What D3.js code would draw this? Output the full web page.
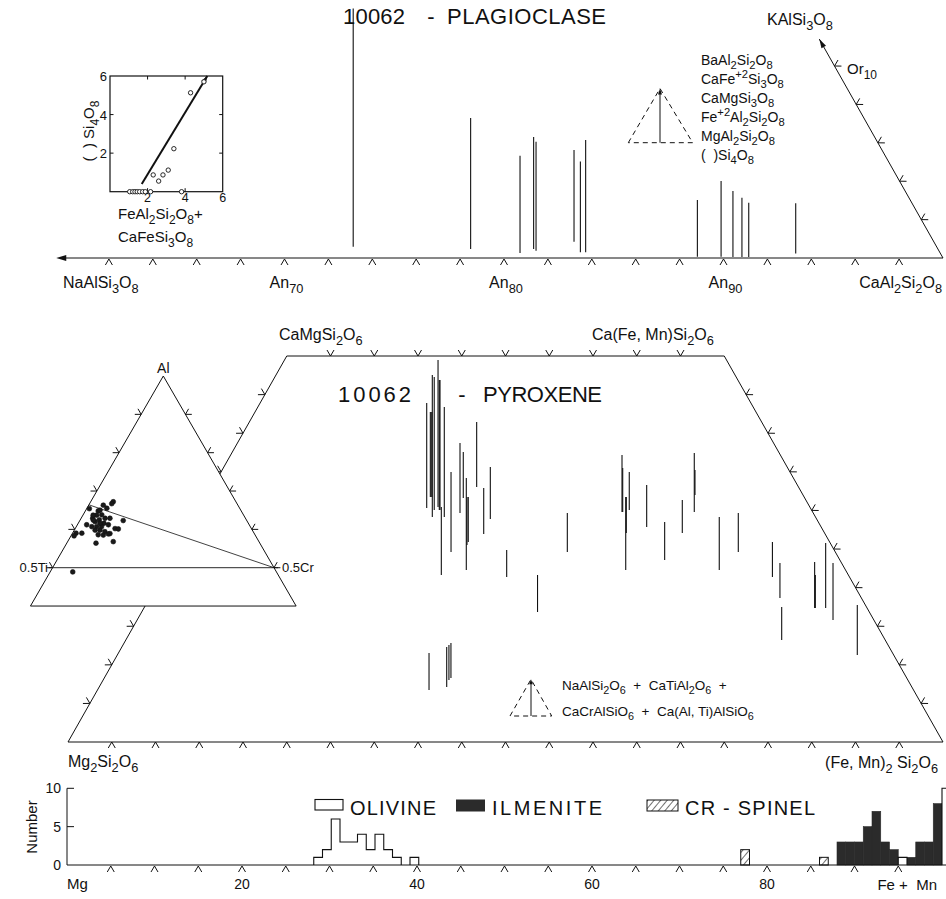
<!DOCTYPE html>
<html>
<head>
<meta charset="utf-8">
<script src="https://cdn.jsdelivr.net/npm/d3@7"></script>
<style>
  html, body { margin: 0; padding: 0; background: #fff; }
  svg { display: block; }
</style>
</head>
<body>
<div id="chart"></div>
<script>
// ---------- Plagioclase ----------
// each analysis: [An (mol %), low end, high end] on the minor-component scale
const plagioclase = [
  [73.13, 0.59, 13.0], [78.48, 0.47, 7.29], [80.73, 0.26, 5.33], [81.35, 0.47, 6.30],
  [81.46, 0.38, 6.06], [83.19, 0.85, 5.63], [83.48, 0.30, 5.02], [83.72, 0.30, 6.15],
  [88.81, 0.07, 3.02], [89.89, 0.07, 4.01], [90.43, 0.05, 3.49], [90.84, 0.05, 3.14],
  [91.15, 0.05, 2.88], [93.29, 0.24, 2.85]
];
const plagTicks = d3.range(62, 100, 2);
const anLabels = [70, 80, 90];
const orTicks = [2, 4, 6, 8, 10];
const plagComponents = ["BaAl_2Si_2O_8", "CaFe^+2Si_3O_8", "CaMgSi_3O_8",
                        "Fe^+2Al_2Si_2O_8", "MgAl_2Si_2O_8", "(  )Si_4O_8"];

// inset: ( )Si4O8 against FeAl2Si2O8 + CaFeSi3O8
const insetPoints = [
  [1.05, 0], [1.21, 0], [1.33, 0], [1.45, 0], [1.58, 0], [1.74, 0], [1.88, 0], [2.16, 0],
  [3.81, 0], [2.30, 0.87], [2.59, 0.55], [2.82, 0.87], [3.10, 1.12], [3.40, 2.23],
  [4.29, 5.13], [5.0, 5.7]
];
const insetTrend = [[1.69, 0.40], [5.18, 6.0]];
const insetTicks = [2, 4, 6];

// ---------- Pyroxene ----------
// each analysis: [Fs, Wo at low end, Wo at high end]
const pyroxeneLines = [
  [25.84, 30.31, 43.91], [25.54, 31.74, 42.75], [25.70, 31.74, 42.75], [27.06, 29.15, 47.54],
  [26.83, 30.05, 47.28], [27.07, 30.44, 49.48], [27.41, 30.05, 46.89], [27.49, 30.05, 46.89],
  [31.85, 21.63, 30.44], [28.43, 29.15, 43.39], [31.47, 24.61, 34.97], [29.97, 29.66, 38.73],
  [29.37, 31.61, 37.56], [34.38, 22.28, 34.20], [32.84, 25.52, 31.74], [32.79, 25.91, 31.74],
  [30.19, 33.03, 41.45], [34.04, 26.94, 32.90], [33.82, 28.89, 35.62], [39.45, 21.37, 24.87],
  [45.24, 16.84, 21.63], [44.76, 24.61, 29.66], [48.42, 29.79, 37.18], [48.50, 29.79, 35.49],
  [52.60, 22.28, 31.74], [50.27, 27.07, 31.74], [49.12, 30.05, 34.97], [52.21, 27.85, 33.29],
  [56.40, 23.58, 28.50], [56.67, 27.07, 31.35], [56.68, 29.79, 37.44], [55.66, 31.99, 35.23],
  [63.29, 22.28, 29.15], [64.30, 24.61, 29.66], [69.82, 21.37, 25.91], [72.04, 18.65, 23.19],
  [74.96, 13.21, 17.49], [76.65, 17.36, 23.32], [76.73, 17.36, 21.63], [77.91, 17.36, 25.78],
  [79.53, 15.80, 23.19], [84.57, 11.27, 17.75], [37.89, 6.74, 11.53], [39.72, 7.12, 12.31],
  [39.52, 8.03, 12.56], [39.62, 8.29, 12.82]
];
const quadTicks = d3.range(5, 50, 5);
const baseTicks = d3.range(5, 100, 5);

// Al - 0.5Ti - 0.5Cr triangle: [Ti, Cr] fractions (Al = 1 - Ti - Cr)
const alTiCr = [
  [0.340, 0.006], [0.277, 0.051], [0.283, 0.050], [0.300, 0.045], [0.323, 0.029],
  [0.332, 0.031], [0.320, 0.042], [0.317, 0.054], [0.332, 0.043], [0.344, 0.036],
  [0.345, 0.026], [0.306, 0.065], [0.326, 0.058], [0.279, 0.098], [0.367, 0.021],
  [0.358, 0.035], [0.347, 0.046], [0.336, 0.057], [0.318, 0.070], [0.308, 0.090],
  [0.301, 0.098], [0.355, 0.047], [0.344, 0.058], [0.335, 0.071], [0.326, 0.085],
  [0.354, 0.060], [0.343, 0.072], [0.330, 0.082], [0.389, 0.021], [0.402, 0.008],
  [0.410, 0.007], [0.370, 0.066], [0.329, 0.103], [0.460, 0.051], [0.346, 0.030],
  [0.335, 0.049], [0.318, 0.032], [0.304, 0.033], [0.340, 0.023]
];
const alTicks = [0.9, 0.8, 0.7, 0.6, 0.5];

// ---------- Histogram: Fe/(Fe+Mg), bins of width 1 ----------
const olivineStart = [28.2, 29.2, 30.2, 31.2, 32.2, 33.2, 34.2, 35.2, 36.2, 37.2, 39.2, 95, 100];
const olivineCount = [1, 2, 6, 3, 3, 4, 2, 4, 2, 1, 1, 1, 10];
const ilmeniteStart = [88, 89, 90, 91, 92, 93, 94, 96, 97, 98, 99];
const ilmeniteCount = [3, 3, 3, 5, 7, 3, 2, 1, 3, 3, 8];
const spinelStart = [77, 86];
const spinelCount = [2, 1];
const histXLabels = [20, 40, 60, 80];
const histYTicks = [0, 5, 10];
const binWidth = 1;

// ---------- helpers ----------
const INK = "#111";
const svg = d3.select("#chart").append("svg")
  .attr("width", 946).attr("height", 899)
  .style("font-family", "'Liberation Sans', Arial, sans-serif");

const defs = svg.append("defs");
const hatch = defs.append("pattern").attr("id", "hatch")
  .attr("width", 5).attr("height", 5)
  .attr("patternUnits", "userSpaceOnUse")
  .attr("patternTransform", "rotate(40)");
hatch.append("rect").attr("width", 5).attr("height", 5).attr("fill", "#fff");
hatch.append("line").attr("x1", 0).attr("y1", 0).attr("x2", 0).attr("y2", 5)
  .attr("stroke", INK).attr("stroke-width", 1.2);

// "_" marks a subscript (digits), "^" a superscript (sign and digits)
function parseFormula(s) {
  const out = [];
  let cur = "", i = 0;
  const push = (type, text) => { if (text) out.push({ type, text }); };
  while (i < s.length) {
    const c = s[i];
    if (c === "_" || c === "^") {
      push("n", cur); cur = "";
      const allowed = c === "_" ? /[0-9]/ : /[0-9+\-]/;
      let j = i + 1, t = "";
      while (j < s.length && allowed.test(s[j])) { t += s[j]; j++; }
      push(c === "_" ? "sub" : "sup", t);
      i = j;
    } else { cur += c; i++; }
  }
  push("n", cur);
  return out;
}

function ftext(g, str, x, y, size, anchor) {
  const t = g.append("text")
    .attr("x", x).attr("y", y)
    .attr("font-size", size)
    .attr("text-anchor", anchor || "start")
    .attr("fill", INK)
    .style("white-space", "pre");
  let off = 0;
  parseFormula(str).forEach(p => {
    const target = p.type === "sub" ? size * 0.32 : p.type === "sup" ? -size * 0.42 : 0;
    const ts = t.append("tspan").text(p.text);
    if (target - off !== 0) ts.attr("dy", target - off);
    if (p.type !== "n") ts.attr("font-size", size * 0.8);
    off = target;
  });
  return t;
}

function seg(g, a, b, w) {
  return g.append("line")
    .attr("x1", a[0]).attr("y1", a[1]).attr("x2", b[0]).attr("y2", b[1])
    .attr("stroke", INK).attr("stroke-width", w || 1);
}

// chevron tick: apex on the line, arms pointing away from interior point c
function chevrons(g, pts, a, b, c, h, w) {
  h = h || 6; w = w || 3.5;
  const dx = b[0] - a[0], dy = b[1] - a[1], L = Math.hypot(dx, dy);
  const tx = dx / L, ty = dy / L;
  let nx = -ty, ny = tx;
  const mx = (a[0] + b[0]) / 2, my = (a[1] + b[1]) / 2;
  if ((c[0] - mx) * nx + (c[1] - my) * ny > 0) { nx = -nx; ny = -ny; }
  g.selectAll(null).data(pts).enter().append("path")
    .attr("d", p => `M${p[0] + nx * h + tx * w},${p[1] + ny * h + ty * w}L${p[0]},${p[1]}L${p[0] + nx * h - tx * w},${p[1] + ny * h - ty * w}`)
    .attr("fill", "none").attr("stroke", INK).attr("stroke-width", 1);
}

function arrowHead(g, tip, from, len, half) {
  len = len || 9; half = half || 3;
  const dx = tip[0] - from[0], dy = tip[1] - from[1], L = Math.hypot(dx, dy);
  const ux = dx / L, uy = dy / L, bx = tip[0] - ux * len, by = tip[1] - uy * len;
  g.append("path")
    .attr("d", `M${tip[0]},${tip[1]}L${bx - uy * half},${by + ux * half}L${bx + uy * half},${by - ux * half}Z`)
    .attr("fill", INK);
}

// ========== PLAGIOCLASE PANEL ==========
const anX = d3.scaleLinear().domain([60, 100]).range([65, 943]);
const plagY = d3.scaleLinear().domain([0, 10]).range([258, 66]);
const orX = d3.scaleLinear().domain([0, 10]).range([943, 834.5]);

const gP = svg.append("g");
const axA = [anX(59.8), plagY(0)], axB = [anX(100), plagY(0)];
seg(gP, axA, axB);
arrowHead(gP, [anX(59.6), plagY(0)], axB, 10, 3);
chevrons(gP, plagTicks.map(a => [anX(a), plagY(0) + 1]), axA, axB, [500, 100]);

const orTop = [orX(11.4), plagY(11.4)];
seg(gP, [orX(0), plagY(0)], orTop);
arrowHead(gP, orTop, [orX(0), plagY(0)], 9, 2.6);
chevrons(gP, orTicks.map(o => [orX(o), plagY(o)]), [orX(0), plagY(0)], orTop, [700, 200]);

gP.selectAll(".pl").data(plagioclase).enter().append("line")
  .attr("x1", d => anX(d[0])).attr("x2", d => anX(d[0]))
  .attr("y1", d => plagY(d[1])).attr("y2", d => plagY(d[2]))
  .attr("stroke", INK).attr("stroke-width", 1.1);

// title
gP.append("text").attr("x", 343).attr("y", 24).attr("font-size", 22).attr("fill", INK)
  .attr("textLength", 62).attr("lengthAdjust", "spacing").text("10062");
gP.append("text").attr("x", 431).attr("y", 24).attr("font-size", 22).attr("fill", INK)
  .attr("text-anchor", "middle").text("-");
gP.append("text").attr("x", 447).attr("y", 24).attr("font-size", 22).attr("fill", INK)
  .attr("textLength", 159).attr("lengthAdjust", "spacing").text("PLAGIOCLASE");

// axis labels
ftext(gP, "NaAlSi_3O_8", 63, 288, 16);
anLabels.forEach(a => ftext(gP, "An_" + a, anX(a) + 2, 288, 16, "middle"));
ftext(gP, "CaAl_2Si_2O_8", 942, 288, 16, "end");
ftext(gP, "KAlSi_3O_8", 767, 25, 16);
ftext(gP, "Or_10", 847, 74, 15);

// legend: components summed along the vertical
plagComponents.forEach((s, i) => ftext(gP, s, 701, 65 + i * 19, 14));
const lgP = { apex: [660, 88.5], l: [628.3, 142.7], r: [692.7, 142.7] };
gP.append("path")
  .attr("d", `M${lgP.l[0]},${lgP.l[1]}L${lgP.apex[0]},${lgP.apex[1]}L${lgP.r[0]},${lgP.r[1]}Z`)
  .attr("fill", "none").attr("stroke", INK).attr("stroke-dasharray", "5,4");
seg(gP, [660, 142.7], [660, 92]);
arrowHead(gP, lgP.apex, [660, 142.7], 6, 2);

// ========== INSET ==========
const insX = d3.scaleLinear().domain([0, 6]).range([110, 222.7]);
const insY = d3.scaleLinear().domain([0, 6]).range([191.7, 76]);
const gI = svg.append("g");
gI.append("rect").attr("x", insX(0)).attr("y", insY(6))
  .attr("width", insX(6) - insX(0)).attr("height", insY(0) - insY(6))
  .attr("fill", "none").attr("stroke", INK).attr("stroke-width", 1.2);
[2, 4].forEach(v => {
  seg(gI, [insX(0), insY(v)], [insX(0) + 3.5, insY(v)]);
  seg(gI, [insX(6), insY(v)], [insX(6) - 3.5, insY(v)]);
  seg(gI, [insX(v), insY(0)], [insX(v), insY(0) - 3.5]);
  seg(gI, [insX(v), insY(6)], [insX(v), insY(6) + 3.5]);
});
insetTicks.forEach(v => {
  gI.append("text").attr("x", insX(0) - 3).attr("y", insY(v) + 5).attr("font-size", 13)
    .attr("text-anchor", "end").attr("fill", INK).text(v);
  gI.append("text").attr("x", insX(v)).attr("y", 202).attr("font-size", 12.5)
    .attr("text-anchor", "middle").attr("fill", INK).text(v);
});
const trendA = [insX(insetTrend[0][0]), insY(insetTrend[0][1])];
const trendB = [insX(insetTrend[1][0]), insY(insetTrend[1][1])];
seg(gI, trendA, trendB, 2);
arrowHead(gI, trendB, trendA, 7, 2.6);
gI.selectAll(".ip").data(insetPoints).enter().append("circle")
  .attr("cx", d => insX(d[0])).attr("cy", d => insY(d[1])).attr("r", 2.2)
  .attr("fill", "#fff").attr("stroke", INK).attr("stroke-width", 0.9);
ftext(gI, "(  ) Si_4O_8", 0, 0, 15, "middle").attr("transform", "translate(94,131) rotate(-90)");
ftext(gI, "FeAl_2Si_2O_8+", 118, 219, 15);
ftext(gI, "CaFeSi_3O_8", 118, 242, 15);

// ========== PYROXENE QUADRILATERAL ==========
const fsX = d3.scaleLinear().domain([0, 100]).range([68, 943]);
const woY = d3.scaleLinear().domain([0, 50]).range([742, 356]);
const quad = (wo, fs) => [fsX(fs + wo / 2), woY(wo)];

const gQ = svg.append("g");
const En = quad(0, 0), Fs = quad(0, 100), Di = quad(50, 0), Hd = quad(50, 50);
const centre = quad(25, 40);
gQ.append("path").attr("d", `M${En}L${Di}L${Hd}L${Fs}Z`)
  .attr("fill", "none").attr("stroke", INK).attr("stroke-width", 1);
chevrons(gQ, baseTicks.map(f => quad(0, f)), En, Fs, centre);
chevrons(gQ, quadTicks.map(f => quad(50, f)), Di, Hd, centre);
chevrons(gQ, quadTicks.map(w => quad(w, 0)), En, Di, centre);
chevrons(gQ, quadTicks.map(w => quad(w, 100 - w)), Fs, Hd, centre);

gQ.selectAll(".px").data(pyroxeneLines).enter().append("line")
  .attr("x1", d => quad(d[1], d[0])[0]).attr("x2", d => quad(d[1], d[0])[0])
  .attr("y1", d => woY(d[1])).attr("y2", d => woY(d[2]))
  .attr("stroke", INK).attr("stroke-width", 1.1);

gQ.append("text").attr("x", 338).attr("y", 402).attr("font-size", 22).attr("fill", INK)
  .attr("textLength", 73).attr("lengthAdjust", "spacing").text("10062");
gQ.append("text").attr("x", 462).attr("y", 402).attr("font-size", 22).attr("fill", INK)
  .attr("text-anchor", "middle").text("-");
gQ.append("text").attr("x", 483).attr("y", 402).attr("font-size", 22).attr("fill", INK)
  .attr("textLength", 119).attr("lengthAdjust", "spacing").text("PYROXENE");

ftext(gQ, "CaMgSi_2O_6", 279, 340, 16);
ftext(gQ, "Ca(Fe, Mn)Si_2O_6", 592, 340, 16);
ftext(gQ, "Mg_2Si_2O_6", 68, 767, 16);
ftext(gQ, "(Fe, Mn)_2 Si_2O_6", 938, 768, 16, "end");

// legend for the minor components
const lgQ = { apex: [531, 679.3], l: [510, 716], r: [551.7, 716] };
gQ.append("path")
  .attr("d", `M${lgQ.l[0]},${lgQ.l[1]}L${lgQ.apex[0]},${lgQ.apex[1]}L${lgQ.r[0]},${lgQ.r[1]}Z`)
  .attr("fill", "none").attr("stroke", INK).attr("stroke-dasharray", "5,4");
seg(gQ, [531, 716], [531, 683]);
arrowHead(gQ, lgQ.apex, [531, 716], 5, 1.8);
ftext(gQ, "NaAlSi_2O_6  +  CaTiAl_2O_6  +", 562, 690, 13.5);
ftext(gQ, "CaCrAlSiO_6  +  Ca(Al, Ti)AlSiO_6", 562, 716, 13.5);

// ========== Al - 0.5Ti - 0.5Cr TRIANGLE ==========
const tApex = [163.3, 376];
const alY = d3.scaleLinear().domain([1, 0]).range([376, 759.4]);
const spread = d3.scaleLinear().domain([-1, 1]).range([163.3 - 221.4, 163.3 + 221.4]);
const tern = (ti, cr) => [spread(cr - ti), alY(1 - ti - cr)];

const gT = svg.append("g");
const tL = tern(0.6, 0), tR = tern(0, 0.6);
gT.append("path").attr("d", `M${tApex}L${tL}L${tR}Z`)
  .attr("fill", "#fff").attr("stroke", INK).attr("stroke-width", 1);
chevrons(gT, alTicks.map(a => tern(1 - a, 0)), tApex, tL, [163, 520], 5.5, 3.2);
chevrons(gT, alTicks.map(a => tern(0, 1 - a)), tApex, tR, [163, 520], 5.5, 3.2);
seg(gT, [tern(0.5, 0)[0] - 4, tern(0.5, 0)[1]], [tern(0, 0.5)[0] + 4, tern(0, 0.5)[1]], 0.9);
seg(gT, tern(0.336, 0), tern(0, 0.5), 0.8);
gT.selectAll(".tp").data(alTiCr).enter().append("circle")
  .attr("cx", d => tern(d[0], d[1])[0]).attr("cy", d => tern(d[0], d[1])[1])
  .attr("r", 2.4).attr("fill", "#1a1a1a").attr("stroke", INK).attr("stroke-width", 0.6);
gT.append("text").attr("x", tApex[0]).attr("y", 373).attr("font-size", 14).attr("fill", INK)
  .attr("text-anchor", "middle").text("Al");
gT.append("text").attr("x", 48).attr("y", 572).attr("font-size", 13).attr("fill", INK)
  .attr("text-anchor", "end").text("0.5Ti");
gT.append("text").attr("x", 282).attr("y", 572).attr("font-size", 13).attr("fill", INK)
  .text("0.5Cr");

// ========== HISTOGRAM ==========
const hx = d3.scaleLinear().domain([0, 100]).range([67, 942]);
const hy = d3.scaleLinear().domain([0, 10]).range([865, 788.3]);
const gH = svg.append("g");

// ilmenite (solid)
gH.selectAll(".il").data(ilmeniteStart).enter().append("rect")
  .attr("x", d => hx(d)).attr("width", hx(binWidth) - hx(0))
  .attr("y", (d, i) => hy(ilmeniteCount[i])).attr("height", (d, i) => hy(0) - hy(ilmeniteCount[i]))
  .attr("fill", "#2b2b2b").attr("stroke", "#2b2b2b").attr("stroke-width", 0.6);

// olivine (open outline, contiguous bins merged into one step outline)
const runs = [];
olivineStart.forEach((s, i) => {
  const last = runs[runs.length - 1];
  if (last && Math.abs(last[last.length - 1][0] + binWidth - s) < 1e-6) last.push([s, olivineCount[i]]);
  else runs.push([[s, olivineCount[i]]]);
});
const step = d3.line().x(d => hx(d[0])).y(d => hy(d[1])).curve(d3.curveStepAfter);
runs.forEach(r => {
  const pts = [[r[0][0], 0], ...r, [r[r.length - 1][0] + binWidth, 0]];
  gH.append("path").attr("d", step(pts))
    .attr("fill", "#fff").attr("stroke", INK).attr("stroke-width", 1.1);
});

// Cr-spinel (hatched)
gH.selectAll(".sp").data(spinelStart).enter().append("rect")
  .attr("x", d => hx(d)).attr("width", hx(binWidth) - hx(0))
  .attr("y", (d, i) => hy(spinelCount[i])).attr("height", (d, i) => hy(0) - hy(spinelCount[i]))
  .attr("fill", "url(#hatch)").attr("stroke", INK).attr("stroke-width", 1);

// axes
seg(gH, [hx(0), hy(0)], [946, hy(0)]);
seg(gH, [hx(0), hy(0)], [hx(0), hy(10)]);
[5, 10].forEach(v => seg(gH, [hx(0), hy(v)], [hx(0) + 7, hy(v)]));
chevrons(gH, baseTicks.map(v => [hx(v), hy(0) + 1]), [hx(0), hy(0)], [hx(100), hy(0)], [500, 800]);
histYTicks.forEach(v => gH.append("text").attr("x", 61).attr("y", hy(v) + 5)
  .attr("font-size", 14).attr("text-anchor", "end").attr("fill", INK).text(v));
histXLabels.forEach(v => gH.append("text").attr("x", hx(v)).attr("y", 889)
  .attr("font-size", 14).attr("text-anchor", "middle").attr("fill", INK).text(v));
gH.append("text").attr("x", 67).attr("y", 889).attr("font-size", 15).attr("fill", INK).text("Mg");
gH.append("text").attr("x", 937).attr("y", 890).attr("font-size", 15).attr("fill", INK)
  .attr("text-anchor", "end").style("white-space", "pre").text("Fe +  Mn");
gH.append("text").attr("transform", "translate(37,827) rotate(-90)")
  .attr("font-size", 15).attr("text-anchor", "middle").attr("fill", INK).text("Number");

// legend
gH.append("rect").attr("x", 315).attr("y", 799.5).attr("width", 28).attr("height", 10.5)
  .attr("fill", "#fff").attr("stroke", INK).attr("stroke-width", 1.1);
gH.append("text").attr("x", 350).attr("y", 815).attr("font-size", 20).attr("fill", INK)
  .attr("textLength", 86).attr("lengthAdjust", "spacing").text("OLIVINE");
gH.append("rect").attr("x", 456).attr("y", 799.5).attr("width", 29).attr("height", 12)
  .attr("fill", "#2b2b2b");
gH.append("text").attr("x", 492).attr("y", 815).attr("font-size", 20).attr("fill", INK)
  .attr("textLength", 110).attr("lengthAdjust", "spacing").text("ILMENITE");
gH.append("rect").attr("x", 647).attr("y", 800).attr("width", 31).attr("height", 11)
  .attr("fill", "url(#hatch)").attr("stroke", INK).attr("stroke-width", 1);
gH.append("text").attr("x", 685).attr("y", 815).attr("font-size", 20).attr("fill", INK)
  .style("white-space", "pre")
  .attr("textLength", 130).attr("lengthAdjust", "spacing").text("CR - SPINEL");
</script>
</body>
</html>
